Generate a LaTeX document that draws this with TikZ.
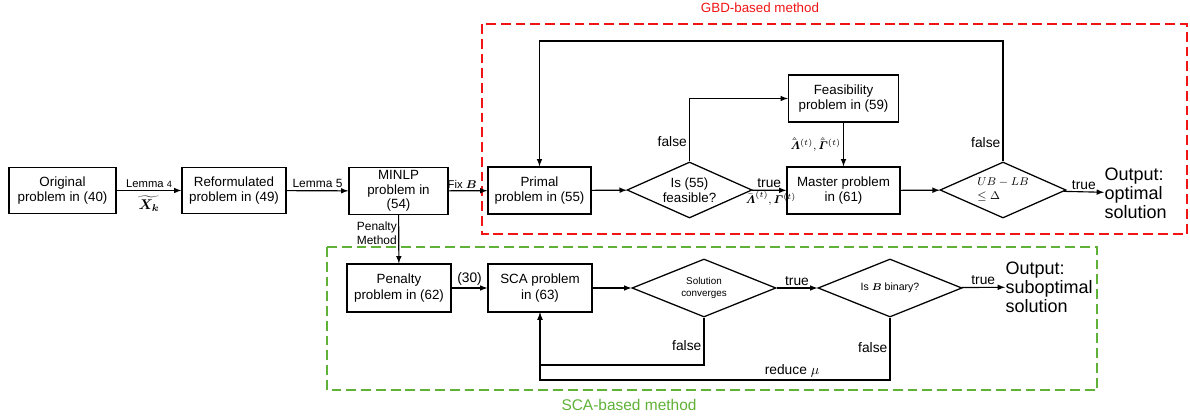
\documentclass[tikz,border=0pt]{standalone}
\usepackage{amsmath}
\usepackage{amssymb}
\usepackage{fontspec}
\setmainfont{Liberation Sans}
\usetikzlibrary{shapes.geometric,positioning}

\definecolor{gbdred}{RGB}{240,20,20}
\definecolor{scagreen}{RGB}{95,178,55}

\tikzset{
  >=latex,
  box/.style={draw, line width=0.9pt, minimum width=2.6cm, minimum height=1.15cm, align=center, inner sep=1pt, font=\fontsize{9.5}{11}\selectfont},
  decision/.style={draw, line width=0.9pt, shape=diamond, shape aspect=2.25, minimum width=3.125cm, minimum height=1.4cm, inner sep=0pt, align=center, font=\fontsize{9.5}{11}\selectfont},
  lbl/.style={font=\fontsize{9.8}{11}\selectfont, inner sep=1.5pt},
  outtext/.style={align=left, anchor=west, inner sep=0pt, font=\fontsize{12.8}{13.5}\selectfont},
  frame/.style={dash pattern=on 7pt off 3.5pt, line width=0.9pt}
}

\begin{document}
\begin{tikzpicture}[x=0.025cm, y=-0.025cm, line width=0.8pt]
\useasboundingbox (0,0) rectangle (1190,419);

% dashed frames
\draw[frame, gbdred] (482,24) rectangle (1187,234);
\node[gbdred, font=\fontsize{9.5}{11}\selectfont] (gbdlbl) at (760,8) {GBD-based method};
\draw[frame, scagreen] (327,247) rectangle (1097,390);
\node[scagreen, font=\fontsize{11}{12}\selectfont] (scalbl) at (629,405) {SCA-based method};

% main chain
\node[box, minimum width=2.675cm] (orig) at (62.5,190.5) {Original\\problem in (40)};
\node[box] (reform) at (234,190.5) {Reformulated\\problem in (49)};
\node[box, minimum width=2.475cm, minimum height=1.175cm, font=\fontsize{9.5}{10.5}\selectfont] (minlp) at (398.5,191) {MINLP\\problem in\\(54)};

% GBD part
\node[box, minimum width=2.575cm, minimum height=1.175cm] (primal) at (539.5,190.5) {Primal\\problem in (55)};
\node[decision] (feas) at (689.5,190) {Is (55)\\feasible?};
\node[box, minimum width=2.75cm, minimum height=1.175cm] (fsb) at (843.5,98.5) {Feasibility\\problem in (59)};
\node[box, minimum width=2.825cm, minimum height=1.175cm] (master) at (843.5,190.5) {Master problem\\in (61)};
\node[decision, minimum width=3.15cm, align=left, font=\fontsize{8}{10}\selectfont] (gap) at (1003,190) {$UB-LB$\\$\leq\Delta$};
\node[outtext] (optout) at (1104,193) {Output:\\optimal\\solution};
\coordinate (looptop) at (1003,41);

% SCA part
\node[box, minimum height=1.2cm] (pen) at (399,288) {Penalty\\problem in (62)};
\node[box, minimum height=1.2cm] (sca) at (540,288) {SCA problem\\in (63)};
\node[decision, shape aspect=2.5, minimum width=3.6cm, minimum height=1.45cm, font=\fontsize{7}{9}\selectfont] (conv) at (704,288) {Solution\\converges};
\node[decision, shape aspect=2.5, minimum width=3.6cm, minimum height=1.45cm, font=\fontsize{7.5}{9}\selectfont] (bin) at (890,288) {Is $\boldsymbol{B}$ binary?};
\node[outtext] (subout) at (1005,287) {Output:\\suboptimal\\solution};
\coordinate (convret) at (540,365);
\coordinate (binret) at (540,380);

% connectors
\draw[->] (orig) -- node[lbl, above, font=\fontsize{8}{9}\selectfont] {Lemma {\fontsize{6.5}{7}\selectfont 4}} node[below] {$\boldsymbol{\widetilde{X_k}}$} (reform);
\draw[->] (reform) -- node[lbl, above, font=\fontsize{8.5}{9}\selectfont] {Lemma 5} (minlp);
\draw[->] (minlp) -- node[lbl, above, pos=0.35, font=\fontsize{8}{9}\selectfont] {Fix $\boldsymbol{B}$} (primal);
\draw[->] (primal) -- (feas);
\draw[->] (feas) -- node[lbl, above] {true} node[lbl, below, pos=0.55, inner sep=0.5pt, font=\fontsize{8}{9}\selectfont] {$\bar{\boldsymbol{\varLambda}}^{(t)},\boldsymbol{\varGamma}^{(t)}$} (master);
\draw[->] (feas.north) |- node[lbl, pos=0.16, left] {false} (fsb.west);
\draw[->] (fsb.south) -- node[lbl, left, font=\fontsize{8}{9}\selectfont] {$\hat{\bar{\boldsymbol{\varLambda}}}^{(t)},\hat{\bar{\boldsymbol{\varGamma}}}^{(t)}$} (master.north);
\draw[->] (master) -- (gap);
\draw[->] (gap) -- node[lbl, above] {true} (optout);
\draw[->] (gap.north) -- node[lbl, pos=0.16, left] {false} (looptop) -| (primal.north);

\draw[->] (minlp) -- node[lbl, left, pos=0.38, align=right, inner sep=1pt, font=\fontsize{8.5}{10}\selectfont] {Penalty\\Method} (pen);
\draw[->] (pen) -- node[lbl, above] {(30)} (sca);
\draw[->] (sca) -- (conv);
\draw[->] (conv) -- node[lbl, above] {true} (bin);
\draw[->] (bin) -- node[lbl, above] {true} (subout);
\draw[->] (conv.south) |- node[lbl, pos=0.29, left] {false} (convret) -- (sca.south);
\draw[->] (bin.south) |- node[lbl, pos=0.24, left] {false} node[lbl, pos=0.64, above] {reduce $\mu$} (binret) -- (sca.south);
\end{tikzpicture}
\end{document}
